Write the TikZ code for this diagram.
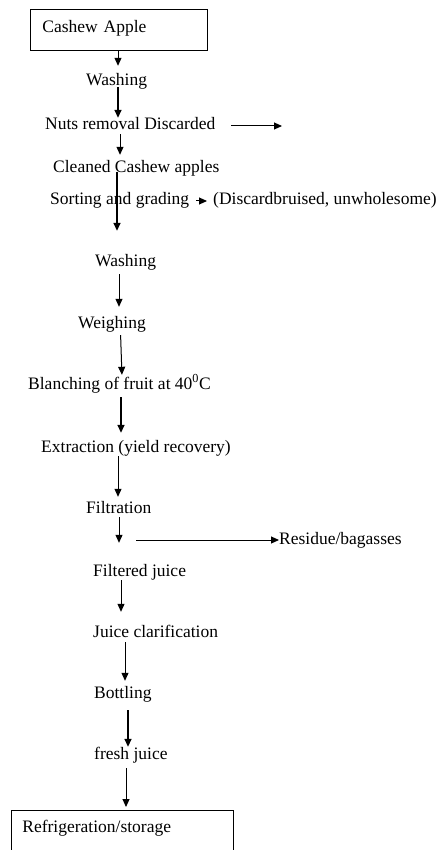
\documentclass[tikz,border=0pt]{standalone}
\usepackage{fontspec}
\setmainfont{Liberation Serif}
\usetikzlibrary{arrows.meta}
\usetikzlibrary{calc}
\tikzset{
  stage/.style = {anchor=base west, inner sep=0pt, text height=12pt,
    text depth=4pt, font=\fontsize{17.5}{21}\selectfont},% etape du procede
  endbox/.style = {stage, draw, anchor=north west, align=left,
    line width=0.8pt},% debut / fin, encadre
  flow/.style = {-{Triangle[length=8pt,width=7pt]}, line width=1pt},% fleche fine
  heavy/.style = {flow, line width=1.6pt}% fleche epaisse
}

\begin{document}
\begin{tikzpicture}[x=1pt,y=-1pt]
\useasboundingbox (0,0) rectangle (442,850);
\clip (0,0) rectangle (442,850);

\node [endbox, text width=153pt, inner xsep=12pt, inner ysep=11pt,
  text depth=7pt] (apple) at (30,9) {Cashew Apple};
\node [stage] (wash1) at (86,86) {Washing};
\node [stage] (nuts) at (45,130) {Nuts removal Discarded};
\node [stage] (cleaned) at (53,173) {Cleaned Cashew apples};
\node [stage] (sorting) at (50,205) {Sorting and grading};
\node [stage] (bruised) at (213,205) {(Discardbruised, unwholesome)};
\node [stage] (wash2) at (95,266) {Washing};
\node [stage] (weigh) at (78,328) {Weighing};
\node [stage] (blanch) at (28,389) {Blanching of fruit at 40\textsuperscript{0}C};
\node [stage] (extract) at (41,452) {Extraction (yield recovery)};
\node [stage] (filter) at (86,513) {Filtration};
\node [stage] (residue) at (279,544) {Residue/bagasses};
\node [stage] (filtered) at (93,576) {Filtered juice};
\node [stage] (clarify) at (93,637) {Juice clarification};
\node [stage] (bottle) at (94,698) {Bottling};
\node [stage] (fresh) at (94,759) {fresh juice};
\node [endbox, text width=200pt, inner xsep=11pt, inner ysep=10pt,
  text depth=30pt] (store) at (11,810) {Refrigeration/storage};

\coordinate (nutsout) at (282,126);
\coordinate (fork) at (136,540);

\draw [flow, shorten >=8pt] (apple.south -| 118,0) -- (wash1.north -| 118,0);
\draw [heavy, shorten <=-3pt] (wash1.south -| 118,0) -- (nuts.north -| 118,0);
\draw [flow, shorten <=16pt] (nuts.east) -- (nutsout);
\draw [flow, shorten >=6pt] (nuts.south -| 120,0) -- (cleaned.north -| 120,0);
\draw [heavy, shorten <=-5pt, shorten >=23pt] (cleaned.south -| 117,0) -- (wash2.north -| 117,0);
\draw [flow, shorten <=7pt, shorten >=6pt] (sorting.east) -- (bruised.west);
\draw [flow, shorten <=4pt, shorten >=9pt] (wash2.south -| 119,0) -- (weigh.north -| 119,0);
\draw [flow, shorten <=3pt, shorten >=2pt] (weigh.south -| 120.5,0) -- (blanch.north -| 122,0);
\draw [heavy, shorten <=4pt, shorten >=7pt] (blanch.south -| 121,0) -- (extract.north -| 121,0);
\draw [flow, shorten >=4pt] (extract.south -| 118,0) -- (filter.north -| 118,0);
\draw [flow, shorten >=21pt] (filter.south -| 119,0) -- (filtered.north -| 119,0);
\draw [flow] (fork) -- (residue.west);
\draw [flow, shorten >=13pt] (filtered.south -| 121,0) -- (clarify.north -| 121,0);
\draw [flow, shorten <=1pt, shorten >=5pt] (clarify.south -| 125,0) -- (bottle.north -| 125,0);
\draw [heavy, shorten <=8pt] (bottle.south -| 128,0) -- (fresh.north -| 128,0);
\draw [flow, shorten <=5pt, shorten >=3pt] (fresh.south -| 126,0) -- (store.north -| 126,0);
\end{tikzpicture}
\end{document}
